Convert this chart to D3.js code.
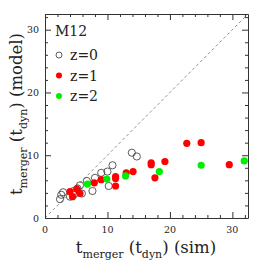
<!DOCTYPE html>
<html>
<head>
<meta charset="utf-8">
<script src="https://cdn.jsdelivr.net/npm/d3@7"></script>
<style>
  body { margin: 0; background: #fff; }
  text { font-family: "DejaVu Serif", "Liberation Serif", serif; }
</style>
</head>
<body>
<div class="container"></div>
<script>
// t_merger (sim) vs t_merger (model), in t_dyn
let z0Sim = [2.4, 2.6, 2.9, 4.0, 4.6, 4.6, 5.2, 5.6, 5.9, 6.7, 7.6, 8.0, 9.0, 10.0, 10.2, 10.8, 13.9, 14.7]
let z0Model = [3.0, 3.7, 4.1, 3.4, 3.7, 4.3, 4.7, 5.2, 3.9, 5.9, 4.3, 6.4, 7.2, 7.4, 5.1, 8.4, 10.4, 9.8]

let z1Sim = [4.0, 4.4, 5.1, 5.6, 7.9, 9.0, 11.3, 11.3, 11.3, 13.0, 14.1, 17.0, 17.0, 17.6, 19.2, 22.7, 25.0, 29.5]
let z1Model = [4.2, 3.4, 4.6, 3.9, 5.6, 6.1, 6.6, 6.3, 5.1, 7.2, 7.4, 8.8, 8.5, 6.4, 9.0, 11.9, 12.0, 8.5]

let z2Sim = [6.8, 9.9, 12.9, 18.3, 25.0, 31.9]
let z2Model = [5.4, 6.2, 6.7, 7.4, 8.4, 9.1]

let majorTicks = [0, 10, 20, 30]
let minorTicks = d3.range(0, 33, 2)
let legendLabels = ['z=0', 'z=1', 'z=2']

let margin = { top: 14, left: 45, right: 14, bottom: 44 }
let width = 262
let height = 262

let xScale = d3.scaleLinear().domain([0, 32.5]).range([margin.left, width - margin.right])
let yScale = d3.scaleLinear().domain([0, 32.5]).range([height - margin.bottom, margin.top])

let svg = d3.select('.container')
    .append('svg')
    .attr('width', width)
    .attr('height', height)

let x0 = xScale.range()[0], x1 = xScale.range()[1]
let y0 = yScale.range()[0], y1 = yScale.range()[1]

// diagonal 1:1 line
svg.append('line')
    .attr('x1', xScale(0)).attr('y1', yScale(0))
    .attr('x2', xScale(32.5)).attr('y2', yScale(32.5))
    .attr('stroke', '#777')
    .attr('stroke-width', 0.8)
    .attr('stroke-dasharray', '3,2.5')

// frame + inward ticks on all four sides
let tickLen = d => majorTicks.includes(d) ? 6 : 3
let axisColor = '#333'

function sideTicks(axisFn, scale, transform, dir) {
    let g = svg.append('g')
        .attr('transform', transform)
        .call(axisFn(scale).tickValues(minorTicks).tickFormat('').tickSizeOuter(0))
    g.select('.domain').attr('stroke', axisColor)
    g.selectAll('.tick line')
        .attr('stroke', axisColor)
        .each(function (d) {
            let l = d3.select(this)
            if (dir === 'x') l.attr('y2', -tickLen(d))
            if (dir === 'xt') l.attr('y2', tickLen(d))
            if (dir === 'y') l.attr('x2', tickLen(d))
            if (dir === 'yr') l.attr('x2', -tickLen(d))
        })
}
sideTicks(d3.axisBottom, xScale, `translate(0,${y0})`, 'x')
sideTicks(d3.axisTop, xScale, `translate(0,${y1})`, 'xt')
sideTicks(d3.axisLeft, yScale, `translate(${x0},0)`, 'y')
sideTicks(d3.axisRight, yScale, `translate(${x1},0)`, 'yr')

// tick labels
svg.append('g').selectAll('text')
    .data(majorTicks).enter().append('text')
    .attr('x', d => xScale(d))
    .attr('y', y0 + 15)
    .attr('text-anchor', 'middle')
    .attr('font-size', 9.5)
    .attr('fill', '#222')
    .text(d => d)

svg.append('g').selectAll('text')
    .data(majorTicks).enter().append('text')
    .attr('x', x0 - 6)
    .attr('y', d => yScale(d) + 3.5)
    .attr('text-anchor', 'end')
    .attr('font-size', 9.5)
    .attr('fill', '#222')
    .text(d => d)

// axis titles with subscripts
function title(g) {
    let t = g.append('text').attr('font-size', 16.5).attr('fill', '#222')
        .attr('text-anchor', 'middle')
    t.append('tspan').text('t')
    t.append('tspan').attr('font-size', 11).attr('dy', 5).text('merger')
    t.append('tspan').attr('dy', -5).text('  (t')
    t.append('tspan').attr('font-size', 11).attr('dy', 5).text('dyn')
    t.append('tspan').attr('dy', -5).text(')  ')
    return t
}
title(svg.append('g').attr('transform', `translate(146,253)`))
    .append('tspan').text('(sim)')

title(svg.append('g').attr('transform', `translate(22,114) rotate(-90)`))
    .append('tspan').text('(model)')

// points
let r = 3.6
svg.append('g').selectAll('circle')
    .data(z0Sim.map((d, i) => [d, z0Model[i]]))
    .enter().append('circle')
    .attr('cx', d => xScale(d[0]))
    .attr('cy', d => yScale(d[1]))
    .attr('r', r)
    .attr('fill', 'none')
    .attr('stroke', '#333')
    .attr('stroke-width', 0.8)

svg.append('g').selectAll('circle')
    .data(z1Sim.map((d, i) => [d, z1Model[i]]))
    .enter().append('circle')
    .attr('cx', d => xScale(d[0]))
    .attr('cy', d => yScale(d[1]))
    .attr('r', r)
    .attr('fill', '#ff0000')

svg.append('g').selectAll('circle')
    .data(z2Sim.map((d, i) => [d, z2Model[i]]))
    .enter().append('circle')
    .attr('cx', d => xScale(d[0]))
    .attr('cy', d => yScale(d[1]))
    .attr('r', r)
    .attr('fill', '#00ee00')

// legend
svg.append('text')
    .attr('x', 55).attr('y', 36)
    .attr('font-size', 14)
    .attr('fill', '#222')
    .text('M12')

let legend = svg.append('g').selectAll('g')
    .data(legendLabels).enter().append('g')
    .attr('transform', (d, i) => `translate(59,${55 + i * 20.5})`)
legend.append('circle')
    .attr('r', 3)
    .attr('fill', (d, i) => ['none', '#ff0000', '#00ee00'][i])
    .attr('stroke', (d, i) => i === 0 ? '#333' : 'none')
    .attr('stroke-width', 0.8)
legend.append('text')
    .attr('x', 11).attr('y', 5)
    .attr('font-size', 14)
    .attr('fill', '#222')
    .text(d => d)
</script>
</body>
</html>
